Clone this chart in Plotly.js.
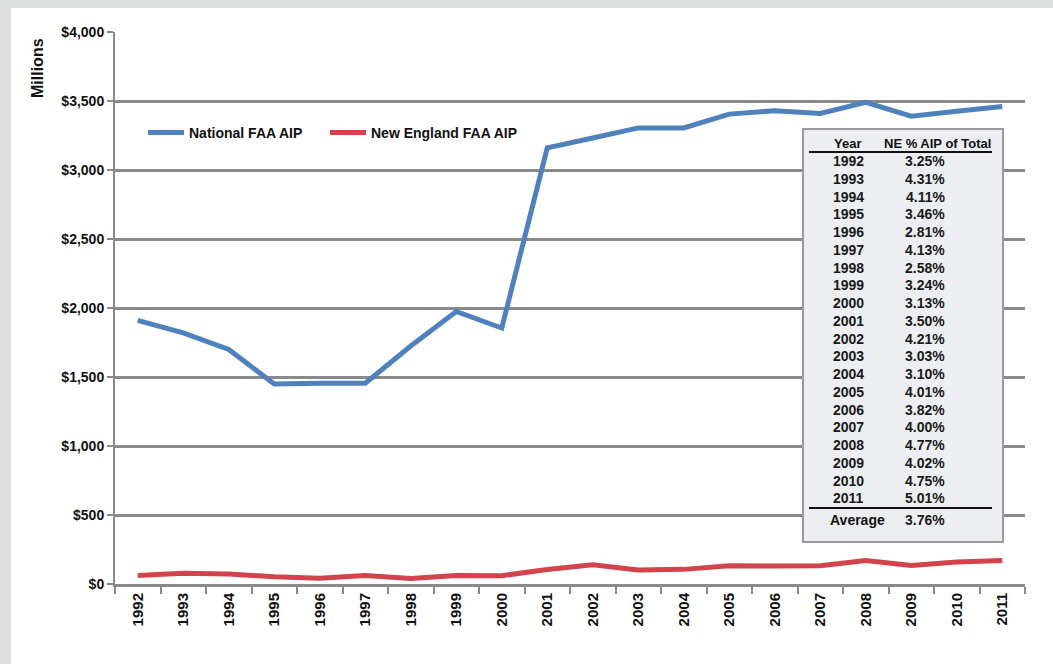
<!DOCTYPE html>
<html>
<head>
<meta charset="utf-8">
<script src="https://cdn.plot.ly/plotly-3.0.1.min.js"></script>
<style>
html,body{margin:0;padding:0;background:#dedfdf;width:1053px;height:664px;overflow:hidden;}
#chart{position:absolute;left:11px;top:8px;width:1042px;height:656px;background:#fff;}
</style>
</head>
<body>
<div id="chart"></div>
<script>
// ---- Data ----
const years = ["1992","1993","1994","1995","1996","1997","1998","1999","2000","2001",
               "2002","2003","2004","2005","2006","2007","2008","2009","2010","2011"];
const nationalAIP = [1910,1820,1700,1450,1455,1455,1725,1975,1855,3160,
                     3232,3305,3305,3405,3430,3410,3490,3390,3425,3460];
const newEnglandAIP = [62,78,72,52,42,62,40,62,60,105,
                       140,102,106,132,130,132,170,135,160,170];
const tableYears = years;
const tablePct = ["3.25%","4.31%","4.11%","3.46%","2.81%","4.13%","2.58%","3.24%","3.13%","3.50%",
                  "4.21%","3.03%","3.10%","4.01%","3.82%","4.00%","4.77%","4.02%","4.75%","5.01%"];
const averageLabel = "Average";
const averagePct = "3.76%";
const tableHeader = ["Year","NE % AIP of Total"];
const seriesNames = ["National FAA AIP","New England FAA AIP"];
const yTitle = "Millions";

// ---- Layout helpers (pixel -> paper) ----
const PL = 115, PR = 1025, PT = 32, PB = 584;
const px = x => (x - PL) / (PR - PL);
const py = y => (PB - y) / (PB - PT);

const gray = "#8a8a8a";
const tickFont = {family: "Liberation Sans Narrow, Arial Narrow, Liberation Sans, Arial, sans-serif", size: 14, color: "#111", weight: "bold"};

const traces = [
  {x: years, y: nationalAIP, name: seriesNames[0], type: "scatter", mode: "lines",
   line: {color: "#4f81bd", width: 5}, legend: "legend"},
  {x: years, y: newEnglandAIP, name: seriesNames[1], type: "scatter", mode: "lines",
   line: {color: "#d2434b", width: 5}, legend: "legend2"}
];

const shapes = [];
const annotations = [];

// table box
shapes.push({type: "rect", xref: "paper", yref: "paper", layer: "above",
  x0: px(803), x1: px(1003), y0: py(542), y1: py(129),
  fillcolor: "#eceef1", line: {color: "#9a9a9a", width: 2}});
// header underline
shapes.push({type: "line", xref: "paper", yref: "paper", layer: "above",
  x0: px(809), x1: px(992), y0: py(152), y1: py(152), line: {color: "#111", width: 2}});
// average line
shapes.push({type: "line", xref: "paper", yref: "paper", layer: "above",
  x0: px(809), x1: px(992), y0: py(508), y1: py(508), line: {color: "#111", width: 2}});

const hdrFont = {family: "Liberation Sans Narrow, Arial Narrow, Liberation Sans, sans-serif", size: 13, color: "#111", weight: "bold"};
const rowFont = {family: "Liberation Sans, Arial, sans-serif", size: 14, color: "#1a1a1a", weight: "bold"};
annotations.push({xref: "paper", yref: "paper", x: px(847), y: py(143), text: tableHeader[0],
  showarrow: false, font: hdrFont, xanchor: "center", yanchor: "middle"});
annotations.push({xref: "paper", yref: "paper", x: px(937), y: py(143), text: tableHeader[1],
  showarrow: false, font: hdrFont, xanchor: "center", yanchor: "middle"});
for (let i = 0; i < tableYears.length; i++) {
  const yy = 161 + i * 17.75;
  annotations.push({xref: "paper", yref: "paper", x: px(848), y: py(yy), text: tableYears[i],
    showarrow: false, font: rowFont, xanchor: "center", yanchor: "middle"});
  annotations.push({xref: "paper", yref: "paper", x: px(925), y: py(yy), text: tablePct[i],
    showarrow: false, font: rowFont, xanchor: "center", yanchor: "middle"});
}
annotations.push({xref: "paper", yref: "paper", x: px(857), y: py(520), text: averageLabel,
  showarrow: false, font: Object.assign({}, hdrFont, {size: 14}), xanchor: "center", yanchor: "middle"});
annotations.push({xref: "paper", yref: "paper", x: px(925), y: py(520), text: averagePct,
  showarrow: false, font: Object.assign({}, rowFont, {size: 14}), xanchor: "center", yanchor: "middle"});

// y title
annotations.push({xref: "paper", yref: "paper", x: px(38), y: py(68), text: yTitle, textangle: -90,
  showarrow: false, font: {family: "Liberation Sans Narrow, Arial Narrow, Liberation Sans, sans-serif", size: 16, color: "#111", weight: "bold"},
  xanchor: "center", yanchor: "middle"});

const legendFont = {family: "Liberation Sans, Arial, sans-serif", size: 14, color: "#111", weight: "bold"};
const layout = {
  width: 1042, height: 656,
  margin: {l: PL - 11, r: 1053 - PR, t: PT - 8, b: 664 - PB, pad: 0},
  paper_bgcolor: "#ffffff", plot_bgcolor: "#ffffff",
  showlegend: true,
  legend: {orientation: "h", x: px(143), y: py(133), xanchor: "left", yanchor: "middle",
    bgcolor: "rgba(0,0,0,0)", font: legendFont, itemwidth: 36},
  legend2: {orientation: "h", x: px(325), y: py(133), xanchor: "left", yanchor: "middle",
    bgcolor: "rgba(0,0,0,0)", font: legendFont, itemwidth: 36},
  xaxis: {type: "category", range: [-0.5, 19.5], tickson: "boundaries", ticks: "outside", ticklen: 7,
    tickwidth: 2, tickcolor: gray, showline: true, linecolor: gray, linewidth: 3, showgrid: false,
    tickangle: -90, tickfont: {family: "Liberation Sans, Arial, sans-serif", size: 15, color: "#111", weight: "bold"},
    fixedrange: true},
  yaxis: {range: [0, 4000], dtick: 500, tick0: 0, tickprefix: "$", tickformat: ",d", separatethousands: true,
    ticks: "outside", ticklen: 6, tickwidth: 2, tickcolor: gray,
    showline: true, linecolor: gray, linewidth: 2, showgrid: true, gridcolor: gray, gridwidth: 3,
    zeroline: false, tickfont: tickFont, fixedrange: true},
  shapes: shapes,
  annotations: annotations
};

Plotly.newPlot("chart", traces, layout, {displayModeBar: false, staticPlot: true});
</script>
</body>
</html>
